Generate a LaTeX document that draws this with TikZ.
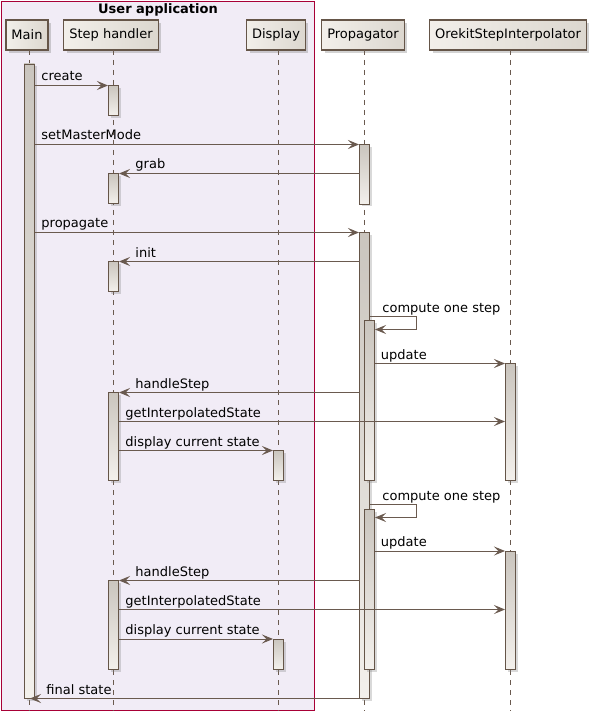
\documentclass[tikz,border=0pt]{standalone}
\usepackage{fontspec}
\setmainfont{DejaVu Sans}
\usetikzlibrary{arrows.meta, calc, shadows}

\definecolor{umlline}{HTML}{6A5A4F}
\definecolor{umlborder}{HTML}{655548}
\definecolor{grpline}{HTML}{A80036}
\definecolor{grpfill}{HTML}{F1ECF6}
\definecolor{bartop}{HTML}{CAC5BE}
\definecolor{barbot}{HTML}{F3F0EC}
\definecolor{headl}{HTML}{F2EFEA}
\definecolor{headr}{HTML}{DCD7CF}

\tikzset{
  head/.style={draw=umlborder, line width=1.3pt, left color=headl, right color=headr,
    minimum height=30pt, inner xsep=5.5pt, font=\fontsize{13}{15}\selectfont,
    drop shadow={shadow xshift=3pt, shadow yshift=-3pt, opacity=0.35}},
  life/.style={umlline, line width=0.8pt, dash pattern=on 5pt off 5pt},
  actbar/.style={draw=umlborder, line width=0.9pt, top color=bartop, bottom color=barbot,
    drop shadow={shadow xshift=2.5pt, shadow yshift=-2.5pt, opacity=0.3}},
  msg/.style={umlline, line width=0.9pt, -{Stealth[length=11pt, width=9pt, inset=4.5pt]}},
  lbl/.style={anchor=base west, inner sep=0pt, yshift=4.5pt, text=black, font=\fontsize{13}{15}\selectfont}
}

\begin{document}
\begin{tikzpicture}[x=1pt, y=-1pt]
    \useasboundingbox (0,0) rectangle (595,711);

    % user application group
    \draw[grpline, fill=grpfill, line width=0.9pt] (1,1) rectangle (314.5,710);
    \node[font=\fontsize{13}{15}\selectfont\bfseries] (grp) at (158,9.5) {User application};

    % participants
    \node[head] (main) at (27,35) {Main};
    \node[head] (step) at (111,35) {Step handler};
    \node[head] (disp) at (276,35) {Display};
    \node[head] (prop) at (363,35) {Propagator};
    \node[head] (orek) at (508,35) {OrekitStepInterpolator};

    \draw[life] (29,50) -- (29,711);
    \draw[life] (113,50) -- (113,711);
    \draw[life] (278,50) -- (278,711);
    \draw[life] (364,50) -- (364,711);
    \draw[life] (510,50) -- (510,711);

    % activations
    \filldraw[actbar] (24,64) rectangle (34.5,698);
    \filldraw[actbar] (108.5,85.5) rectangle (118.5,115.5);
    \filldraw[actbar] (359.5,144.5) rectangle (369.5,204);
    \filldraw[actbar] (108.5,173.5) rectangle (118.5,203.5);
    \filldraw[actbar] (359.5,232.5) rectangle (369.5,698);
    \filldraw[actbar] (108.5,261.5) rectangle (118.5,291.5);
    \filldraw[actbar] (364.5,320.5) rectangle (374.5,480);
    \filldraw[actbar] (505.5,363.5) rectangle (515.5,480);
    \filldraw[actbar] (108.5,392.5) rectangle (118.5,480);
    \filldraw[actbar] (273.5,450.5) rectangle (283.5,480);
    \filldraw[actbar] (364.5,509.5) rectangle (374.5,669);
    \filldraw[actbar] (505.5,551) rectangle (515.5,669);
    \filldraw[actbar] (108.5,580.5) rectangle (118.5,669);
    \filldraw[actbar] (273.5,639) rectangle (283.5,669);

    % message ends
    \coordinate (m_1) at (34.5,85.5);   \coordinate (s_1) at (108,85.5);
    \coordinate (m_2) at (34.5,144.5);  \coordinate (p_2) at (359,144.5);
    \coordinate (p_3) at (359.5,173.5); \coordinate (s_3) at (119,173.5);
    \coordinate (m_4) at (34.5,232.5);  \coordinate (p_4) at (359,232.5);
    \coordinate (p_5) at (359.5,261.5); \coordinate (s_5) at (119,261.5);
    \coordinate (p_6) at (369.5,316.5); \coordinate (q_6) at (375,329.5);
    \coordinate (q_7) at (374.5,363.5); \coordinate (o_7) at (505,363.5);
    \coordinate (p_8) at (359.5,392.5); \coordinate (s_8) at (119,392.5);
    \coordinate (s_9) at (118.5,421.5); \coordinate (o_9) at (505,421.5);
    \coordinate (s_10) at (118.5,450.5); \coordinate (d_10) at (273,450.5);
    \coordinate (p_11) at (369.5,504.5); \coordinate (q_11) at (375,517.5);
    \coordinate (q_12) at (374.5,551); \coordinate (o_12) at (505,551);
    \coordinate (p_13) at (359.5,580.5); \coordinate (s_13) at (119,580.5);
    \coordinate (s_14) at (118.5,609.5); \coordinate (o_14) at (505,609.5);
    \coordinate (s_15) at (118.5,639); \coordinate (d_15) at (273,639);
    \coordinate (p_16) at (359.5,698.5); \coordinate (m_16) at (30,698.5);

    % messages
    \draw[msg] (m_1) -- (s_1) node[lbl, at start, xshift=6.5pt] {create};
    \draw[msg] (m_2) -- (p_2) node[lbl, at start, xshift=6.5pt] {setMasterMode};
    \draw[msg] (p_3) -- (s_3) node[lbl, at end, xshift=16pt] {grab};
    \draw[msg] (m_4) -- (p_4) node[lbl, at start, xshift=6.5pt] {propagate};
    \draw[msg] (p_5) -- (s_5) node[lbl, at end, xshift=16pt] {init};
    \draw[msg] (p_6) node[lbl, xshift=12.5pt] {compute one step} -- ++(47,0) |- (q_6);
    \draw[msg] (q_7) -- (o_7) node[lbl, at start, xshift=6pt] {update};
    \draw[msg] (p_8) -- (s_8) node[lbl, at end, xshift=16pt] {handleStep};
    \draw[msg] (s_9) -- (o_9) node[lbl, at start, xshift=6.5pt] {getInterpolatedState};
    \draw[msg] (s_10) -- (d_10) node[lbl, at start, xshift=6.5pt] {display current state};
    \draw[msg] (p_11) node[lbl, xshift=12.5pt] {compute one step} -- ++(47,0) |- (q_11);
    \draw[msg] (q_12) -- (o_12) node[lbl, at start, xshift=6pt] {update};
    \draw[msg] (p_13) -- (s_13) node[lbl, at end, xshift=16pt] {handleStep};
    \draw[msg] (s_14) -- (o_14) node[lbl, at start, xshift=6.5pt] {getInterpolatedState};
    \draw[msg] (s_15) -- (d_15) node[lbl, at start, xshift=6.5pt] {display current state};
    \draw[msg] (p_16) -- (m_16) node[lbl, at end, xshift=16pt] {final state};
\end{tikzpicture}
\end{document}
